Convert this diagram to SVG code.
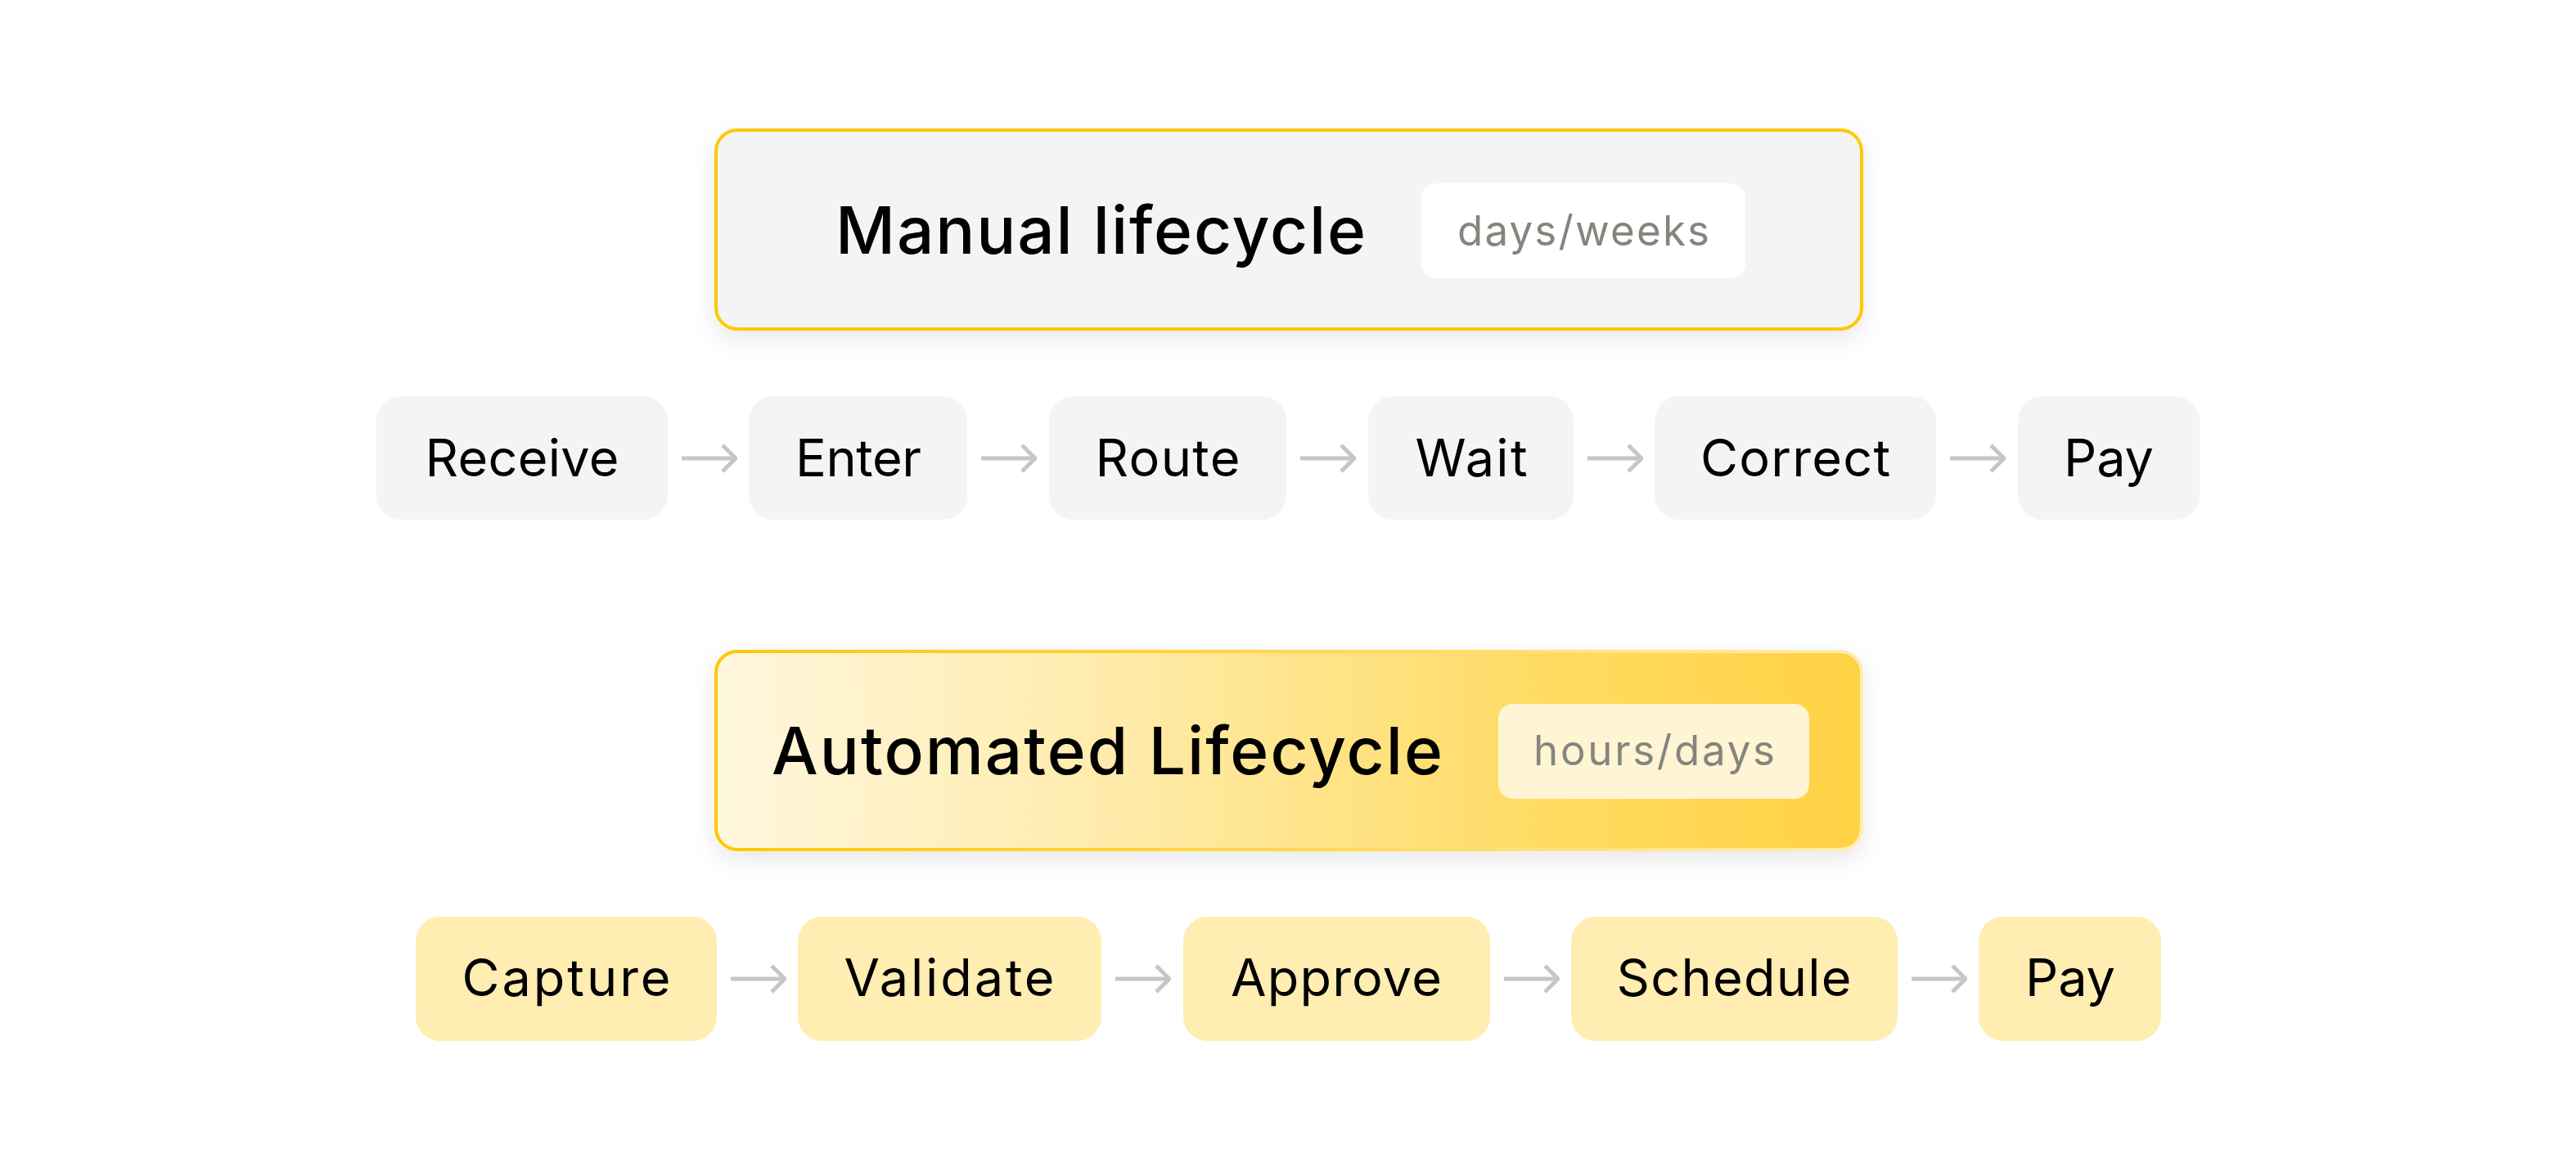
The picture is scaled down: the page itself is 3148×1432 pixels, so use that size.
<svg xmlns="http://www.w3.org/2000/svg" width="3148" height="1432" viewBox="0 0 3148 1432">
  <defs>
    <linearGradient id="autoFill" x1="0" y1="0" x2="1" y2="0">
      <stop offset="0" stop-color="#FFF7DE"/>
      <stop offset="0.35" stop-color="#FFEBAA"/>
      <stop offset="0.75" stop-color="#FFDA5E"/>
      <stop offset="1" stop-color="#FFD244"/>
    </linearGradient>
    <linearGradient id="autoStroke" x1="0" y1="0" x2="1" y2="0">
      <stop offset="0" stop-color="#FFC800"/>
      <stop offset="0.5" stop-color="#FFD84A"/>
      <stop offset="1" stop-color="#FFEDB0"/>
    </linearGradient>
    <filter id="shadow" x="-10%" y="-30%" width="120%" height="170%">
      <feDropShadow dx="0" dy="10" stdDeviation="14" flood-color="#000" flood-opacity="0.09"/>
    </filter>
    <marker id="arrow" viewBox="0 0 20 36" refX="18" refY="18" markerWidth="20" markerHeight="36" markerUnits="userSpaceOnUse" orient="auto">
      <polyline points="2,2 18,18 2,34" fill="none" stroke="#C6C6C6" stroke-width="5"/>
    </marker>
    <style>
      .title { font-family: Inter, "Liberation Sans", sans-serif; font-weight: 500; font-size: 80px; fill: #000; }
      .badge-text { font-family: Inter, "Liberation Sans", sans-serif; font-weight: 400; font-size: 51px; fill: #85857d; }
      .step-text { font-family: Inter, "Liberation Sans", sans-serif; font-weight: 400; font-size: 63px; fill: #000; text-anchor: middle; }
      .manual-step { fill: #F4F4F4; }
      .auto-step { fill: #FFEDB2; }
      .conn { stroke: #C6C6C6; stroke-width: 5; fill: none; marker-end: url(#arrow); }
    </style>
  </defs>
  <rect x="0" y="0" width="3148" height="1432" fill="#FFFFFF"/>

  <g id="manual-header">
    <rect x="875" y="159" width="1400" height="243" rx="26" fill="#F4F4F4" stroke="#FFC800" stroke-width="4" filter="url(#shadow)"/>
    <text class="title" x="1021" y="310" textLength="648">Manual lifecycle</text>
    <rect x="1737" y="224" width="396" height="116" rx="18" fill="#FFFFFF"/>
    <text class="badge-text" x="1781" y="300" textLength="308">days/weeks</text>
  </g>

  <g id="auto-header">
    <rect x="875" y="796" width="1400" height="242" rx="26" fill="url(#autoFill)" stroke="url(#autoStroke)" stroke-width="4" filter="url(#shadow)"/>
    <text class="title" x="943" y="946" textLength="820">Automated Lifecycle</text>
    <rect x="1831" y="860" width="380" height="116" rx="18" fill="#FFF4D4"/>
    <text class="badge-text" x="1874" y="935" textLength="295">hours/days</text>
  </g>

  <g id="m-receive"><rect class="manual-step" x="460" y="484" width="356" height="151" rx="30"/><text class="step-text" x="638" y="582" textLength="237">Receive</text></g>
  <g id="m-enter"><rect class="manual-step" x="915" y="484" width="267" height="151" rx="30"/><text class="step-text" x="1049" y="582" textLength="154">Enter</text></g>
  <g id="m-route"><rect class="manual-step" x="1282" y="484" width="290" height="151" rx="30"/><text class="step-text" x="1427" y="582" textLength="177">Route</text></g>
  <g id="m-wait"><rect class="manual-step" x="1672" y="484" width="251" height="151" rx="30"/><text class="step-text" x="1798" y="582" textLength="137">Wait</text></g>
  <g id="m-correct"><rect class="manual-step" x="2022" y="484" width="344" height="151" rx="30"/><text class="step-text" x="2194" y="582" textLength="232">Correct</text></g>
  <g id="m-pay"><rect class="manual-step" x="2466" y="484" width="222" height="151" rx="30"/><text class="step-text" x="2577" y="582" textLength="110">Pay</text></g>

  <g id="a-capture"><rect class="auto-step" x="508" y="1120" width="368" height="152" rx="30"/><text class="step-text" x="692" y="1217" textLength="255">Capture</text></g>
  <g id="a-validate"><rect class="auto-step" x="975" y="1120" width="371" height="152" rx="30"/><text class="step-text" x="1160" y="1217" textLength="257">Validate</text></g>
  <g id="a-approve"><rect class="auto-step" x="1446" y="1120" width="375" height="152" rx="30"/><text class="step-text" x="1633" y="1217" textLength="258">Approve</text></g>
  <g id="a-schedule"><rect class="auto-step" x="1920" y="1120" width="399" height="152" rx="30"/><text class="step-text" x="2119" y="1217" textLength="287">Schedule</text></g>
  <g id="a-pay"><rect class="auto-step" x="2418" y="1120" width="223" height="152" rx="30"/><text class="step-text" x="2530" y="1217" textLength="110">Pay</text></g>

  <g id="connectors">
    <line class="conn" x1="833" y1="560" x2="899" y2="560"/>
    <line class="conn" x1="1199" y1="560" x2="1265" y2="560"/>
    <line class="conn" x1="1589" y1="560" x2="1655" y2="560"/>
    <line class="conn" x1="1940" y1="560" x2="2006" y2="560"/>
    <line class="conn" x1="2383" y1="560" x2="2449" y2="560"/>
    <line class="conn" x1="893" y1="1196" x2="959" y2="1196"/>
    <line class="conn" x1="1363" y1="1196" x2="1429" y2="1196"/>
    <line class="conn" x1="1838" y1="1196" x2="1904" y2="1196"/>
    <line class="conn" x1="2336" y1="1196" x2="2402" y2="1196"/>
  </g>
</svg>
